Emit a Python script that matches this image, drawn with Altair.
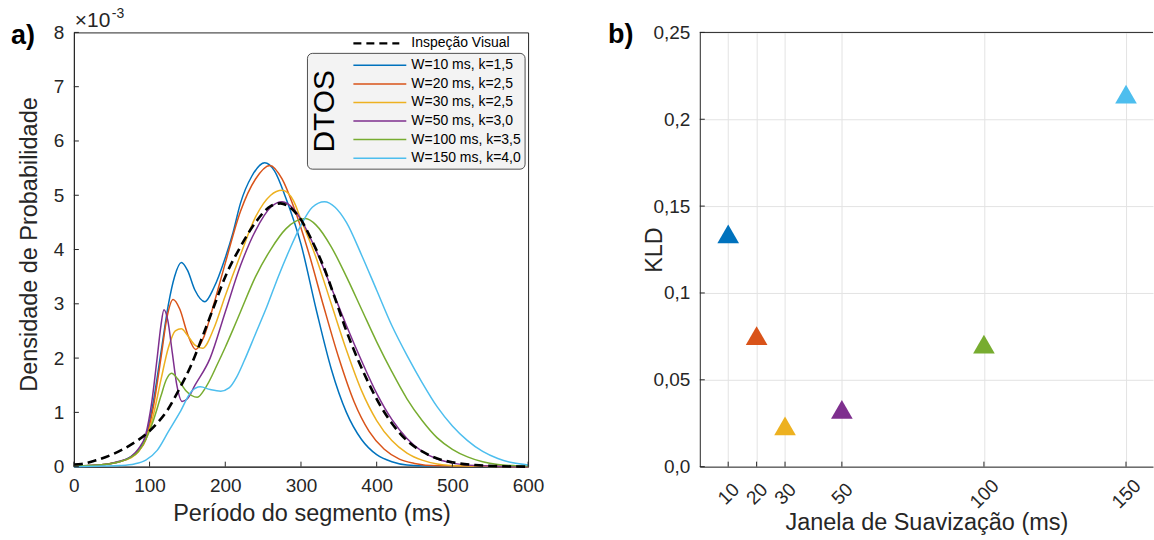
import altair as alt
import pandas as pd

FONT = "Liberation Sans"
INK = "#262626"

# ---------------- data: panel a (density, units of 1e-3) ----------------
series_names = ["W=10 ms, k=1,5", "W=20 ms, k=2,5", "W=30 ms, k=2,5",
                "W=50 ms, k=3,0", "W=100 ms, k=3,5", "W=150 ms, k=4,0"]
series_colors = ["#0072BD", "#D95319", "#EDB120", "#7E2F8E", "#77AC30", "#4DBEEE"]
visual_name = "Inspeção Visual"

w10_x = [0, 20, 40, 60, 75, 85, 95, 105, 115, 125, 133, 142, 150, 160, 173, 185, 200, 210, 220, 235,
         252, 265, 280, 300, 320, 340, 360, 380, 400, 420, 440, 470, 600]
w10_y = [0.01, 0.02, 0.04, 0.09, 0.18, 0.3, 0.55, 1.2, 2.1, 3.0, 3.5, 3.76, 3.62, 3.25, 3.04, 3.3, 3.85, 4.3, 4.85, 5.35,
         5.6, 5.45, 4.95, 4.1, 2.9, 1.8, 1.0, 0.5, 0.22, 0.09, 0.03, 0.01, 0.0]

w20_x = [0, 20, 40, 60, 75, 85, 95, 105, 115, 123, 131, 140, 150, 161, 172, 185, 200, 220, 240, 259,
         275, 290, 310, 330, 350, 370, 390, 410, 430, 450, 480, 600]
w20_y = [0.01, 0.02, 0.04, 0.09, 0.17, 0.28, 0.5, 1.1, 2.0, 2.75, 3.08, 2.9, 2.45, 2.16, 2.4, 3.0, 3.75, 4.7, 5.3, 5.55,
         5.3, 4.8, 3.95, 2.95, 2.0, 1.2, 0.65, 0.32, 0.14, 0.06, 0.015, 0.0]

w30_x = [0, 40, 60, 75, 85, 95, 105, 115, 125, 134, 142, 150, 160, 170, 185, 200, 220, 240, 260, 275,
         290, 300, 320, 340, 360, 380, 400, 420, 440, 460, 480, 510, 600]
w30_y = [0.01, 0.04, 0.09, 0.16, 0.27, 0.5, 0.95, 1.6, 2.2, 2.5, 2.54, 2.42, 2.24, 2.18, 2.55, 3.15, 3.9, 4.6, 5.0, 5.09,
         4.9, 4.55, 3.85, 3.0, 2.15, 1.4, 0.85, 0.48, 0.25, 0.12, 0.05, 0.015, 0.0]

w50_x = [0, 40, 60, 75, 85, 95, 103, 110, 115, 119, 124, 130, 136, 143, 150, 160, 180, 200, 220, 240,
         260, 275, 290, 300, 320, 340, 360, 380, 400, 420, 440, 460, 480, 500, 530, 600]
w50_y = [0.01, 0.04, 0.1, 0.18, 0.32, 0.6, 1.2, 2.0, 2.6, 2.89, 2.7, 2.1, 1.5, 1.2, 1.25, 1.5, 2.0, 2.85, 3.7, 4.35,
         4.78, 4.88, 4.75, 4.55, 3.98, 3.3, 2.6, 1.95, 1.35, 0.87, 0.52, 0.28, 0.14, 0.065, 0.02, 0.0]

w100_x = [0, 40, 60, 75, 85, 95, 105, 115, 122, 129, 137, 148, 163, 175, 190, 200, 210, 220, 240, 260,
          280, 306, 320, 340, 360, 380, 400, 420, 440, 460, 480, 500, 520, 540, 560, 580, 600]
w100_y = [0.01, 0.04, 0.09, 0.17, 0.28, 0.5, 0.85, 1.3, 1.6, 1.72, 1.62, 1.4, 1.28, 1.48, 1.9, 2.2, 2.52, 2.85, 3.5, 4.0,
          4.38, 4.57, 4.45, 4.05, 3.5, 2.9, 2.3, 1.75, 1.25, 0.85, 0.53, 0.32, 0.18, 0.09, 0.04, 0.02, 0.01]

w150_x = [0, 40, 60, 80, 95, 110, 125, 140, 155, 167, 180, 194, 205, 215, 225, 240, 255, 270, 285, 300,
          315, 331, 345, 360, 380, 400, 420, 440, 460, 480, 500, 520, 540, 560, 580, 600]
w150_y = [0.0, 0.01, 0.02, 0.05, 0.12, 0.3, 0.65, 1.0, 1.38, 1.47, 1.42, 1.39, 1.45, 1.65, 1.95, 2.45, 2.95, 3.5, 4.0, 4.45,
          4.78, 4.88, 4.78, 4.5, 3.9, 3.25, 2.6, 2.05, 1.55, 1.1, 0.75, 0.48, 0.28, 0.15, 0.07, 0.03]

visual_x = [0, 10, 30, 53, 75, 97, 110, 124, 140, 154, 170, 185, 200, 220, 240, 260, 273, 285, 299, 315,
            330, 345, 360, 375, 390, 405, 420, 440, 460, 480, 500, 530, 560, 600]
visual_y = [0.04, 0.05, 0.12, 0.24, 0.4, 0.62, 0.8, 1.05, 1.45, 1.84, 2.4, 2.95, 3.5, 4.05, 4.5, 4.8, 4.85, 4.78, 4.57, 4.15,
            3.68, 3.1, 2.5, 1.98, 1.52, 1.12, 0.8, 0.48, 0.28, 0.15, 0.08, 0.03, 0.01, 0.0]

a_xticks = [0, 100, 200, 300, 400, 500, 600]
a_yticks = [0, 1, 2, 3, 4, 5, 6, 7, 8]

# ---------------- data: panel b (KLD) ----------------
kld_windows = [10, 20, 30, 50, 100, 150]
kld_values = [0.134, 0.0755, 0.0235, 0.033, 0.0705, 0.2145]
b_yticks = [0, 0.05, 0.1, 0.15, 0.2, 0.25]

# ---------------- tables ----------------
xs = [w10_x, w20_x, w30_x, w50_x, w100_x, w150_x]
ys = [w10_y, w20_y, w30_y, w50_y, w100_y, w150_y]
rows = []
for name, sx, sy in zip(series_names, xs, ys):
    for xv, yv in zip(sx, sy):
        rows.append({"serie": name, "periodo": xv, "dens": yv})
df_series = pd.DataFrame(rows)
df_visual = pd.DataFrame({"periodo": visual_x, "dens": visual_y})
df_leg = pd.DataFrame({"serie": series_names, "idx": list(range(len(series_names)))})
df_kld = pd.DataFrame({"janela": kld_windows, "kld": kld_values, "serie": series_names})

W_A, H = 455, 435
W_B = 454

color_scale = alt.Scale(domain=series_names, range=series_colors)
xa_scale = alt.Scale(domain=[0, 600], nice=False, zero=False)
ya_scale = alt.Scale(domain=[0, 8], nice=False)

xa_axis = alt.Axis(values=a_xticks, title="Período do segmento (ms)", grid=False, ticks=False,
                   labelPadding=10, titlePadding=6, labelFlush=False, titleX=238)
ya_axis = alt.Axis(values=a_yticks, title="Densidade de Probabilidade", grid=False, ticks=False,
                   labelPadding=10, titlePadding=12, labelFlush=False, titleY=212)

lines = alt.Chart(df_series).mark_line(strokeWidth=1.5, interpolate="monotone").encode(
    x=alt.X("periodo:Q", scale=xa_scale, axis=xa_axis),
    y=alt.Y("dens:Q", scale=ya_scale, axis=ya_axis),
    color=alt.Color("serie:N", scale=color_scale, legend=None),
    detail="serie:N",
)
visual = alt.Chart(df_visual).mark_line(strokeWidth=2.6, color="black", strokeDash=[9, 5],
                                        interpolate="monotone").encode(
    x=alt.X("periodo:Q", scale=xa_scale, axis=xa_axis),
    y=alt.Y("dens:Q", scale=ya_scale, axis=ya_axis),
)
xt_a = alt.Chart(pd.DataFrame({"periodo": a_xticks})).mark_rule(color=INK, strokeWidth=1).encode(
    x=alt.X("periodo:Q", scale=xa_scale, axis=xa_axis), y=alt.value(H), y2=alt.value(H - 5))
yt_a = alt.Chart(pd.DataFrame({"dens": a_yticks})).mark_rule(color=INK, strokeWidth=1).encode(
    y=alt.Y("dens:Q", scale=ya_scale, axis=ya_axis), x=alt.value(0), x2=alt.value(5))

# legend
leg_box = alt.Chart(pd.DataFrame({"k": [0]})).mark_rect(
    fill="#f3f3f3", stroke=INK, strokeWidth=0.8, cornerRadius=5).encode(
    x=alt.value(234), x2=alt.value(452), y=alt.value(21), y2=alt.value(137))
leg_lines = alt.Chart(df_leg).transform_calculate(ly="7.393 - 0.342*datum.idx").mark_rule(strokeWidth=1.5).encode(
    x=alt.value(280), x2=alt.value(333),
    y=alt.Y("ly:Q", scale=ya_scale, axis=ya_axis),
    color=alt.Color("serie:N", scale=color_scale, legend=None))
leg_text = alt.Chart(df_leg).transform_calculate(ly="7.393 - 0.342*datum.idx").mark_text(
    align="left", baseline="middle", fontSize=14, font=FONT, color="black").encode(
    x=alt.value(338), y=alt.Y("ly:Q", scale=ya_scale, axis=ya_axis), text="serie:N")
vis_leg = pd.DataFrame({"nome": [visual_name], "ly": [7.798]})
vis_line = alt.Chart(vis_leg).mark_rule(strokeWidth=2.2, color="black", strokeDash=[8, 5]).encode(
    x=alt.value(280), x2=alt.value(326), y=alt.Y("ly:Q", scale=ya_scale, axis=ya_axis))
vis_text = alt.Chart(vis_leg).mark_text(align="left", baseline="middle", fontSize=14, font=FONT,
                                        color="black").encode(
    x=alt.value(338), y=alt.Y("ly:Q", scale=ya_scale, axis=ya_axis), text="nome:N")
dtos = alt.Chart(pd.DataFrame({"t": ["DTOS"]})).mark_text(
    angle=270, align="center", baseline="middle", fontSize=30, font=FONT, color="black").encode(
    x=alt.value(252), y=alt.value(79), text="t:N")
exp1 = alt.Chart(pd.DataFrame({"t": ["×10"]})).mark_text(
    align="left", baseline="alphabetic", fontSize=21, font=FONT, color=INK).encode(
    x=alt.value(1), y=alt.value(-5), text="t:N")
exp2 = alt.Chart(pd.DataFrame({"t": ["-3"]})).mark_text(
    align="left", baseline="alphabetic", fontSize=14, font=FONT, color=INK).encode(
    x=alt.value(38), y=alt.value(-14), text="t:N")
lab_a = alt.Chart(pd.DataFrame({"t": ["a)"]})).mark_text(
    align="left", baseline="alphabetic", fontSize=27, fontWeight="bold", font=FONT, color="black").encode(
    x=alt.value(-63), y=alt.value(12), text="t:N")

panel_a = alt.layer(lines, visual, xt_a, yt_a, leg_box, vis_line, vis_text, leg_lines, leg_text, dtos,
                    exp1, exp2, lab_a).properties(
    width=W_A, height=H, view=alt.ViewBackground(stroke=INK, strokeWidth=1))

# ---------------- panel b ----------------
xb_scale = alt.Scale(domain=[0, 159.5], nice=False, zero=False)
yb_scale = alt.Scale(domain=[0, 0.25], nice=False)
xb_axis = alt.Axis(values=kld_windows, title="Janela de Suavização (ms)", grid=True, ticks=False,
                   labelAngle=315, labelAlign="center", labelBaseline="middle", labelPadding=27,
                   titlePadding=-1, labelFlush=False, gridColor="#e3e3e3")
yb_axis = alt.Axis(values=b_yticks, title="KLD", grid=True, ticks=False, labelPadding=10,
                   titleX=-33, labelFlush=False, gridColor="#e3e3e3",
                   labelExpr="datum.value == 0 ? '0,0' : replace(toString(datum.value), '.', ',')")

pts = alt.Chart(df_kld).mark_point(shape="triangle-up", filled=True, size=470, opacity=1).encode(
    x=alt.X("janela:Q", scale=xb_scale, axis=xb_axis),
    y=alt.Y("kld:Q", scale=yb_scale, axis=yb_axis),
    color=alt.Color("serie:N", scale=color_scale, legend=None),
)
top_b = alt.Chart(pd.DataFrame({"kld": [0.25]})).mark_rule(color=INK, strokeWidth=1).encode(
    y=alt.Y("kld:Q", scale=yb_scale, axis=yb_axis), x=alt.value(0), x2=alt.value(W_B))
xt_b = alt.Chart(pd.DataFrame({"janela": kld_windows})).mark_rule(color=INK, strokeWidth=1).encode(
    x=alt.X("janela:Q", scale=xb_scale, axis=xb_axis), y=alt.value(H), y2=alt.value(H - 5))
yt_b = alt.Chart(pd.DataFrame({"kld": b_yticks})).mark_rule(color=INK, strokeWidth=1).encode(
    y=alt.Y("kld:Q", scale=yb_scale, axis=yb_axis), x=alt.value(0), x2=alt.value(5))
lab_b = alt.Chart(pd.DataFrame({"t": ["b)"]})).mark_text(
    align="left", baseline="alphabetic", fontSize=27, fontWeight="bold", font=FONT, color="black").encode(
    x=alt.value(-92), y=alt.value(11), text="t:N")

panel_b = alt.layer(top_b, xt_b, yt_b, pts, lab_b).properties(
    width=W_B, height=H, view=alt.ViewBackground(stroke=None))

chart = alt.hconcat(panel_a, panel_b, spacing=172, bounds="flush").properties(
    padding={"left": 10, "top": 6, "right": 0, "bottom": 0}
).configure_axis(
    labelFont=FONT, titleFont=FONT, labelFontSize=19, titleFontSize=23.5,
    labelColor=INK, titleColor=INK, domainColor=INK, domainWidth=1, titleFontWeight="normal",
).configure_view(stroke=None)

chart.save("out.html", embed_options={"renderer": "svg", "actions": False})
